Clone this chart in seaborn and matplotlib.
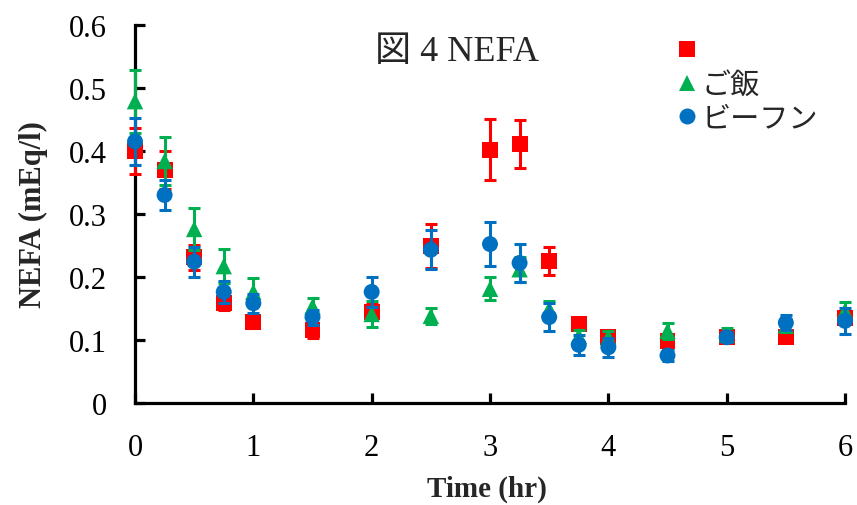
import matplotlib
matplotlib.use("Agg")
import matplotlib.pyplot as plt
from matplotlib.lines import Line2D
import seaborn as sns
import pandas as pd

# ---- data ----
time_hr = [0, 0.25, 0.5, 0.75, 1, 1.5, 2, 2.5, 3, 3.25, 3.5, 3.75, 4, 4.5, 5, 5.5, 6]

series_labels = [" ", "ご飯", "ビーフン"]

red_vals = [0.400, 0.370, 0.231, 0.158, 0.128, 0.115, 0.144, 0.249, 0.402, 0.411,
            0.225, 0.125, 0.104, 0.098, 0.104, 0.104, 0.135]
red_err = [0.037, 0.030, 0.020, 0.010, 0.010, 0.012, 0.012, 0.035, 0.049, 0.038,
           0.022, 0.010, 0.008, 0.010, 0.008, 0.008, 0.010]

green_vals = [0.479, 0.384, 0.276, 0.217, 0.176, 0.153, 0.141, 0.138, 0.181, 0.212,
              0.149, 0.106, 0.104, 0.114, 0.108, 0.123, 0.146]
green_err = [0.050, 0.038, 0.033, 0.027, 0.022, 0.013, 0.020, 0.013, 0.018, 0.020,
             0.012, 0.010, 0.010, 0.013, 0.010, 0.010, 0.014]

blue_vals = [0.415, 0.330, 0.224, 0.176, 0.158, 0.136, 0.176, 0.243, 0.252, 0.222,
             0.136, 0.092, 0.088, 0.075, 0.104, 0.127, 0.130]
blue_err = [0.037, 0.024, 0.024, 0.017, 0.015, 0.012, 0.024, 0.031, 0.035, 0.030,
            0.022, 0.016, 0.015, 0.008, 0.008, 0.012, 0.021]

y_ticks = [0, 0.1, 0.2, 0.3, 0.4, 0.5, 0.6]
y_tick_labels = ["0", "0.1", "0.2", "0.3", "0.4", "0.5", "0.6"]
x_ticks = [0, 1, 2, 3, 4, 5, 6]
x_tick_labels = ["0", "1", "2", "3", "4", "5", "6"]

# ---- style ----
sns.set_theme(style="ticks")
plt.rcParams["font.family"] = ["Liberation Serif", "Noto Sans CJK JP", "DejaVu Sans"]

fig = plt.figure(figsize=(8.57, 5.06), dpi=100)
ax = fig.add_axes([135 / 857, 1 - 403.7 / 506, 710 / 857, 377.7 / 506])

colors = ["#FF0000", "#00B050", "#0070C0"]
markers = ["s", "^", "o"]
sizes = [132, 140, 132]
vals = [red_vals, green_vals, blue_vals]
errs = [red_err, green_err, blue_err]

for i in range(3):
    df = pd.DataFrame({"t": time_hr, "v": vals[i], "e": errs[i]})
    ax.errorbar(df["t"], df["v"], yerr=df["e"], fmt="none", ecolor=colors[i],
                elinewidth=2.2, capsize=4.3, capthick=2.2, zorder=3 + 2 * i,
                clip_on=False)
    sns.scatterplot(data=df, x="t", y="v", ax=ax, marker=markers[i], color=colors[i],
                    s=sizes[i], edgecolor="none", linewidth=0, zorder=4 + 2 * i,
                    clip_on=False, legend=False)

ax.set_xlim(0, 6)
ax.set_ylim(0, 0.6)
ax.set_xticks(x_ticks)
ax.set_xticklabels(x_tick_labels)
ax.set_yticks(y_ticks)
ax.set_yticklabels(y_tick_labels)
sns.despine(ax=ax)
for s in ["left", "bottom"]:
    ax.spines[s].set_linewidth(2.3)
    ax.spines[s].set_color("black")
ax.tick_params(axis="both", direction="in", length=7, width=2.3, color="black",
               labelsize=22, labelcolor="black")
ax.tick_params(axis="y", pad=20)
ax.tick_params(axis="x", pad=22)

ax.set_xlabel("Time (hr)", fontsize=21, fontweight="bold")
ax.xaxis.set_label_coords(0.495, -0.19)
ax.set_ylabel("NEFA (mEq/l)", fontsize=22, fontweight="bold")
ax.yaxis.set_label_coords(-0.122, 0.5)

fig.text(457 / 857, 1 - 53 / 506, "図 4 NEFA", fontsize=26, ha="center", va="center",
         family=["Liberation Serif", "Noto Sans CJK JP"])

handles = [Line2D([], [], linestyle="none", marker=markers[i], color=colors[i],
                  markersize=11.5, markeredgewidth=0) for i in range(3)]
leg = ax.legend(handles, series_labels, loc="upper left",
                bbox_to_anchor=(664 / 857, 1 - 23 / 506), bbox_transform=fig.transFigure,
                frameon=False, handlelength=0.6, handletextpad=0.2, labelspacing=0.12,
                borderpad=0, prop={"family": "Noto Sans CJK JP", "size": 21})

fig.savefig("out.png", dpi=100)
